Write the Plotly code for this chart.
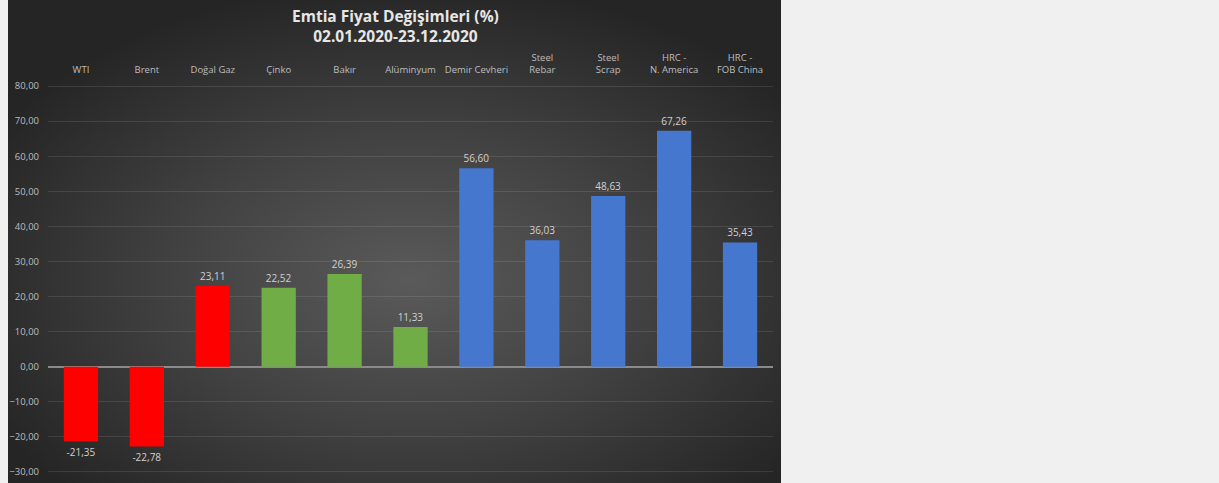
import base64
import plotly.graph_objects as go

categories = ["WTI", "Brent", "Doğal Gaz", "Çinko", "Bakır", "Alüminyum", "Demir Cevheri",
              "Steel<br>Rebar", "Steel<br>Scrap", "HRC -<br>N. America", "HRC -<br>FOB China"]
values = [-21.35, -22.78, 23.11, 22.52, 26.39, 11.33, 56.60, 36.03, 48.63, 67.26, 35.43]
bar_colors = ["#ff0000", "#ff0000", "#ff0000", "#70ad47", "#70ad47", "#70ad47",
              "#4677cf", "#4677cf", "#4677cf", "#4677cf", "#4677cf"]
title_lines = ["Emtia Fiyat Değişimleri (%)", "02.01.2020-23.12.2020"]
y_ticks = [-30, -20, -10, 0, 10, 20, 30, 40, 50, 60, 70, 80]

W, H = 1219, 483
L, R, T, B = 48, W - 773, 85, H - 473
pw, ph = W - L - R, H - T - B

def px_x(p):
    return (p - L) / pw

def px_y(p):
    return (H - B - p) / ph

svg = ('<svg xmlns="http://www.w3.org/2000/svg" width="773" height="483" viewBox="0 0 773 483" '
       'preserveAspectRatio="none"><defs><radialGradient id="g" cx="52%" cy="58%" r="62%">'
       '<stop offset="0%" stop-color="#5a5a5a"/><stop offset="50%" stop-color="#414141"/>'
       '<stop offset="100%" stop-color="#252525"/></radialGradient></defs>'
       '<rect x="0" y="0" width="773" height="483" fill="url(#g)"/></svg>')
src = "data:image/svg+xml;base64," + base64.b64encode(svg.encode()).decode()

fig = go.Figure()
fig.add_trace(go.Bar(
    x=categories, y=values, marker=dict(color=bar_colors, line=dict(width=0)),
    width=0.52, texttemplate="%{y:.2f}", textposition="outside",
    textfont=dict(color="#d0d0d0", size=10, family="Open Sans"), cliponaxis=False,
))

fig.update_layout(
    width=W, height=H, separators=",.", autosize=False,
    margin=dict(l=L, r=R, t=T, b=B, pad=0, autoexpand=False),
    paper_bgcolor="#f0f0f0", plot_bgcolor="rgba(0,0,0,0)",
    showlegend=False,
    font=dict(family="Open Sans", color="#c8c8c8", size=10),
    xaxis=dict(side="top", showgrid=False, zeroline=False, showline=False, ticks="",
               automargin=False,
               tickfont=dict(size=9.5, color="#bdbdbd"), ticklabelstandoff=9),
    yaxis=dict(range=[-30.3, 80.3], tickvals=y_ticks, tickformat=".2f", automargin=False,
               showgrid=True, gridcolor="rgba(255,255,255,0.1)", gridwidth=1,
               zeroline=True, zerolinecolor="#8a8a8a", zerolinewidth=1.5,
               showline=False, ticks="", tickfont=dict(size=9.5, color="#bdbdbd"),
               ticklabelstandoff=8),
    images=[dict(source=src, xref="paper", yref="paper", x=px_x(8), y=px_y(0),
                 sizex=px_x(781) - px_x(8), sizey=px_y(0) - px_y(483),
                 xanchor="left", yanchor="top", sizing="stretch", layer="below")],
    annotations=[dict(text="<b>" + title_lines[0] + "</b><br><b>" + title_lines[1] + "</b>",
                      xref="paper", yref="paper", x=px_x(395), y=px_y(3), xanchor="center",
                      yanchor="top", showarrow=False,
                      font=dict(size=15.5, color="#e6e6e6", family="Open Sans"))],
)

fig.write_html("out.html", config={"displayModeBar": False},
               post_script="document.body.style.margin='0';document.documentElement.style.overflow='hidden';document.body.style.overflow='hidden';")
